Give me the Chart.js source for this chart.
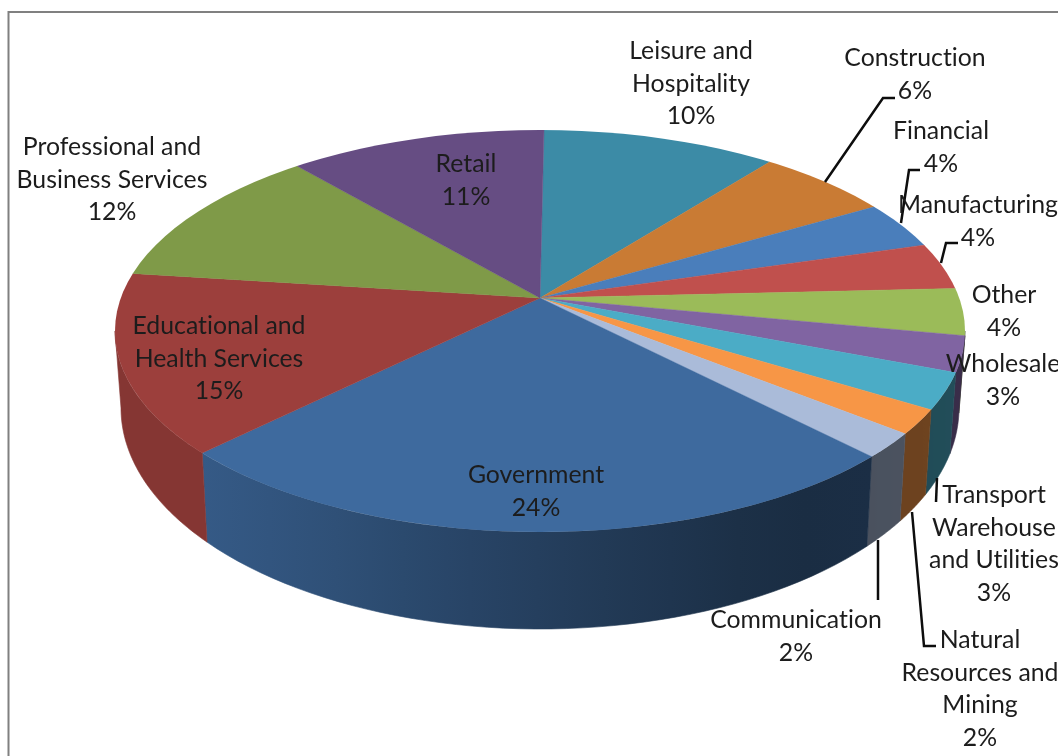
<!DOCTYPE html>
<html>
<head>
<meta charset="utf-8">
<title>Employment by sector</title>
<script src="https://cdn.jsdelivr.net/npm/chart.js@4/dist/chart.umd.min.js"></script>
<style>
  html, body { margin: 0; padding: 0; background: #fff; overflow: hidden; }
  canvas { display: block; }
</style>
</head>
<body>
<canvas id="pie" width="1058" height="756"></canvas>
<script>
// Sector shares, clockwise from twelve o'clock
const categories = ["Leisure and Hospitality", "Construction", "Financial", "Manufacturing", "Other", "Wholesale",
  "Transport Warehouse and Utilities", "Natural Resources and Mining", "Communication", "Government",
  "Educational and Health Services", "Professional and Business Services", "Retail"];
const shares = [10, 6, 4, 4, 4, 3, 3, 2, 2, 24, 15, 12, 11];
const sliceColors = ["#3c8ba6", "#c97b34", "#4a7ebb", "#c0504d", "#9bbb59", "#8064a2", "#4bacc6",
  "#f79646", "#aabbd9", "#3e6a9e", "#9c3f3c", "#7f9a48", "#664d83"];

// How each label wraps, then where its block and leader line sit
const labelLines = [["Leisure and", "Hospitality"], ["Construction"], ["Financial"], ["Manufacturing"], ["Other"], ["Wholesale"],
  ["Transport", "Warehouse", "and Utilities"], ["Natural", "Resources and", "Mining"], ["Communication"], ["Government"],
  ["Educational and", "Health Services"], ["Professional and", "Business Services"], ["Retail"]];
const labelAnchors = [[691, 50], [915, 57], [941, 130], [978, 204], [1004, 294], [1003, 363],
  [994, 494], [980, 639], [796, 619], [536, 474], [219, 325], [112, 146], [466, 163]];
const leaderLines = [
  [[825, 182], [883, 98], [895, 98]],
  [[901, 223], [909, 170], [920, 170]],
  [[941, 263], [946, 243], [958, 243]],
  [[937, 478], [936, 502]],
  [[878, 540], [878, 600]],
  [[912, 512], [924, 646], [936, 646]]
];

// Tilted-disc geometry: the wedge apex sits above the centre of the top rim
const apex = { x: 540, y: 298 };
const topRim = { x: 540, y: 331, rx: 425, ry: 201 };
const lowRim = { x: 540, y: 408, rx: 419, ry: 221 };
const tilt = 0.44;
const spread = 1.5;
const startRotation = 0.6;

// Wall brightness across the page, brightest at the left
const wallLight = [[115, 0.85], [212, 0.85], [300, 0.78], [540, 0.59], [780, 0.42], [965, 0.45]];

function lightAt(x) {
  for (let i = 1; i < wallLight.length; i++) {
    if (x <= wallLight[i][0]) {
      const [x0, v0] = wallLight[i - 1], [x1, v1] = wallLight[i];
      return v0 + (v1 - v0) * Math.max(0, (x - x0) / (x1 - x0));
    }
  }
  return wallLight[wallLight.length - 1][1];
}

function shade(hex, f) {
  const n = parseInt(hex.slice(1), 16);
  return `rgb(${Math.round((n >> 16) * f)},${Math.round(((n >> 8) & 255) * f)},${Math.round((n & 255) * f)})`;
}

// Parameter on the top rim where the ray at a given arc angle meets it
function rimParam(angle) {
  const cx = Math.cos(angle), cy = Math.sin(angle) * tilt;
  const d = apex.y - topRim.y;
  const A = (cx * cx) / (topRim.rx * topRim.rx) + (cy * cy) / (topRim.ry * topRim.ry);
  const B = (2 * d * cy) / (topRim.ry * topRim.ry);
  const C = (d * d) / (topRim.ry * topRim.ry) - 1;
  const t = (-B + Math.sqrt(B * B - 4 * A * C)) / (2 * A);
  let phi = Math.atan2((d + t * cy) / topRim.ry, (t * cx) / topRim.rx);
  if (phi < -Math.PI / 2) phi += Math.PI * 2;
  return phi;
}

function drawWalls(chart) {
  const ctx = chart.ctx;
  const arcs = chart.getDatasetMeta(0).data;
  arcs.forEach((arc, i) => {
    const lo = Math.max(0, rimParam(arc.startAngle));
    const hi = Math.min(Math.PI, rimParam(arc.endAngle));
    if (hi <= lo) return;
    const steps = 48;
    const upper = [], lower = [];
    for (let k = 0; k <= steps; k++) {
      const p = lo + (hi - lo) * k / steps;
      upper.push([topRim.x + topRim.rx * Math.cos(p), topRim.y + topRim.ry * Math.sin(p)]);
      lower.push([lowRim.x + lowRim.rx * Math.cos(p), lowRim.y + lowRim.ry * Math.sin(p)]);
    }
    const xs = upper.concat(lower).map(q => q[0]);
    const minX = Math.min(...xs), maxX = Math.max(...xs);
    const grad = ctx.createLinearGradient(minX, 0, maxX + 0.01, 0);
    for (let k = 0; k <= 10; k++) {
      grad.addColorStop(k / 10, shade(sliceColors[i], lightAt(minX + (maxX - minX) * k / 10)));
    }
    ctx.beginPath();
    upper.forEach((q, k) => k ? ctx.lineTo(q[0], q[1]) : ctx.moveTo(q[0], q[1]));
    lower.reverse().forEach(q => ctx.lineTo(q[0], q[1]));
    ctx.closePath();
    ctx.fillStyle = grad;
    ctx.fill();
    ctx.strokeStyle = grad;
    ctx.lineWidth = 0.6;
    ctx.stroke();
  });
}

const discPlugin = {
  id: "disc",
  beforeDraw(chart) {
    const ctx = chart.ctx;
    ctx.save();
    ctx.fillStyle = "#fff";
    ctx.fillRect(0, 0, chart.width, chart.height);
    ctx.strokeStyle = "#808080";
    ctx.lineWidth = 2;
    ctx.beginPath();
    ctx.moveTo(8.5, chart.height);
    ctx.lineTo(8.5, 12);
    ctx.lineTo(chart.width, 12);
    ctx.stroke();
    ctx.restore();
  },
  beforeDatasetsDraw(chart) {
    const ctx = chart.ctx;
    drawWalls(chart);
    const arc = chart.getDatasetMeta(0).data[0];
    ctx.save();
    ctx.beginPath();
    ctx.ellipse(topRim.x, topRim.y, topRim.rx, topRim.ry, 0, 0, Math.PI * 2);
    ctx.clip();
    ctx.translate(apex.x, apex.y);
    ctx.scale(spread, spread * tilt);
    ctx.translate(-arc.x, -arc.y);
  },
  afterDatasetsDraw(chart) {
    chart.ctx.restore();
  },
  afterDraw(chart) {
    const ctx = chart.ctx;
    ctx.save();
    ctx.strokeStyle = "#0d0d0d";
    ctx.lineWidth = 2.5;
    ctx.lineJoin = "miter";
    leaderLines.forEach(line => {
      ctx.beginPath();
      line.forEach((q, k) => k ? ctx.lineTo(q[0], q[1]) : ctx.moveTo(q[0], q[1]));
      ctx.stroke();
    });
    ctx.fillStyle = "#1c1c1c";
    ctx.font = '24.8px Lato';
    ctx.letterSpacing = "0.01px"; // keeps "ti" and "fi" as separate glyphs
    ctx.textAlign = "center";
    ctx.textBaseline = "middle";
    const total = shares.reduce((a, b) => a + b, 0);
    labelLines.forEach((lines, i) => {
      const rows = lines.concat(Math.round(shares[i] / total * 100) + "%");
      rows.forEach((row, k) => ctx.fillText(row, labelAnchors[i][0], labelAnchors[i][1] + 1 + k * 32.6));
    });
    ctx.restore();
  }
};

new Chart(document.getElementById("pie"), {
  type: "pie",
  data: {
    labels: categories,
    datasets: [{ data: shares, backgroundColor: sliceColors, borderColor: sliceColors, borderWidth: 0.4 }]
  },
  options: {
    responsive: false,
    animation: false,
    rotation: startRotation,
    layout: { padding: 0 },
    plugins: { legend: { display: false }, tooltip: { enabled: false } }
  },
  plugins: [discPlugin]
});
</script>
</body>
</html>
